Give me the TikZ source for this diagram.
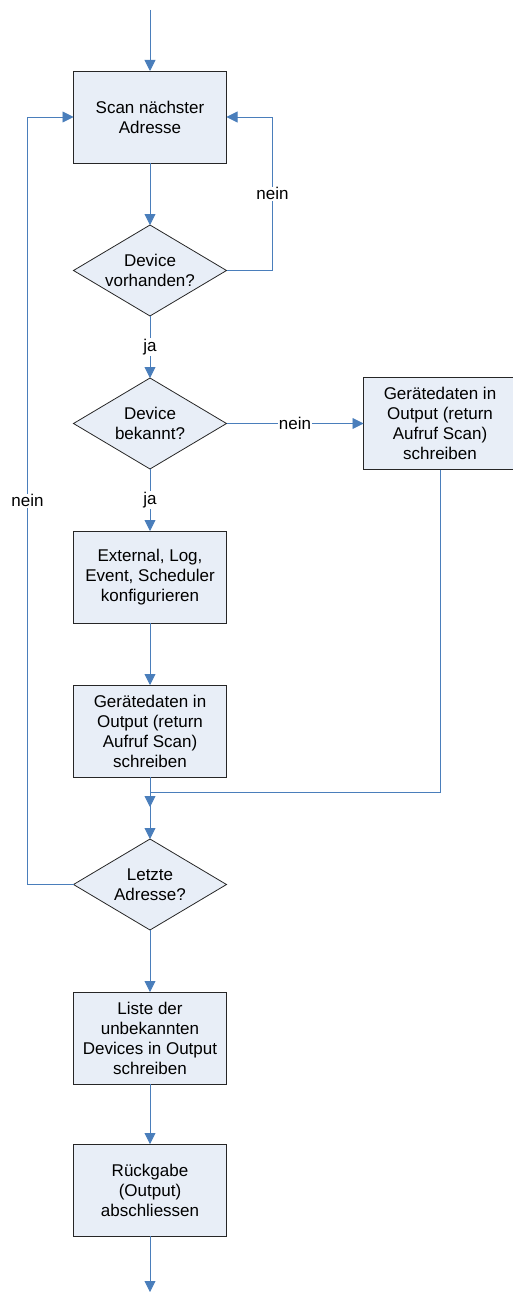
\documentclass[tikz,border=0pt]{standalone}
\usepackage{fontspec}
\setmainfont{Liberation Sans}
\usetikzlibrary{
  arrows.meta,
  positioning,
  shapes.geometric,
}
\definecolor{flowblue}{HTML}{4A7EBB}
\definecolor{boxfill}{HTML}{E8EEF7}
\tikzset{
  node distance=62pt,
  x = 1pt,
  y = 1pt,
  box/.style={
    draw=black!85, fill=boxfill, line width=0.8pt,
    minimum width=153pt, minimum height=92pt,
    inner sep=0pt, outer sep=0pt, align=center,
    font=\fontsize{17}{20}\selectfont,
  },
  dec/.style={
    box, shape=diamond, minimum height=91pt, inner sep=-10pt,
  },
  >={Triangle[length=11pt,width=11pt]},
  flow/.style={->, draw=flowblue, line width=0.9pt},
  lbl/.style={fill=white, inner sep=1pt, font=\fontsize{17}{20}\selectfont},
}
\begin{document}
\begin{tikzpicture}
  \useasboundingbox (0,0) rectangle (513,-1295);
  \node[box] (scan) at (150,-117) {Scan nächster\\Adresse};
  \coordinate[above=61pt of scan] (start);
  \node[dec, below=of scan] (vorh) {Device\\vorhanden?};
  \node[dec, below=of vorh] (bek) {Device\\bekannt?};
  \node[box, right=137pt of bek] (neu) {Gerätedaten in\\Output (return\\Aufruf Scan)\\schreiben};
  \node[box, below=of bek] (konf) {External, Log,\\Event, Scheduler\\konfigurieren};
  \node[box, below=of konf] (daten) {Gerätedaten in\\Output (return\\Aufruf Scan)\\schreiben};
  \node[dec, below=of daten] (letzte) {Letzte\\Adresse?};
  \node[box, below=of letzte] (liste) {Liste der\\unbekannten\\Devices in Output\\schreiben};
  \node[box, below=60pt of liste] (rueck) {Rückgabe\\(Output)\\abschliessen};
  \coordinate[below=56pt of rueck] (ende);
  \coordinate[below=15pt of daten] (join);
  \coordinate[below=30pt of daten] (joinend);

  \draw[flow] (start) -- (scan.north);
  \draw[flow] (scan.south) -- (vorh.north);
  \draw[flow] (vorh.east) -- ++(46,0) |- node[lbl, pos=0.25]{nein} (scan.east);
  \draw[flow] (vorh.south) -- node[lbl]{ja} (bek.north);
  \draw[flow] (bek.east) -- node[lbl]{nein} (neu.west);
  \draw[flow] (bek.south) -- node[lbl]{ja} (konf.north);
  \draw[flow] (konf.south) -- (daten.north);
  \draw[flow] (neu.south) |- (join) -- (joinend);
  \draw[flow] (daten.south) -- (letzte.north);
  \draw[flow] (letzte.west) -- ++(-46,0) |- node[lbl, pos=0.25]{nein} (scan.west);
  \draw[flow] (letzte.south) -- (liste.north);
  \draw[flow] (liste.south) -- (rueck.north);
  \draw[flow] (rueck.south) -- (ende);
\end{tikzpicture}
\end{document}
